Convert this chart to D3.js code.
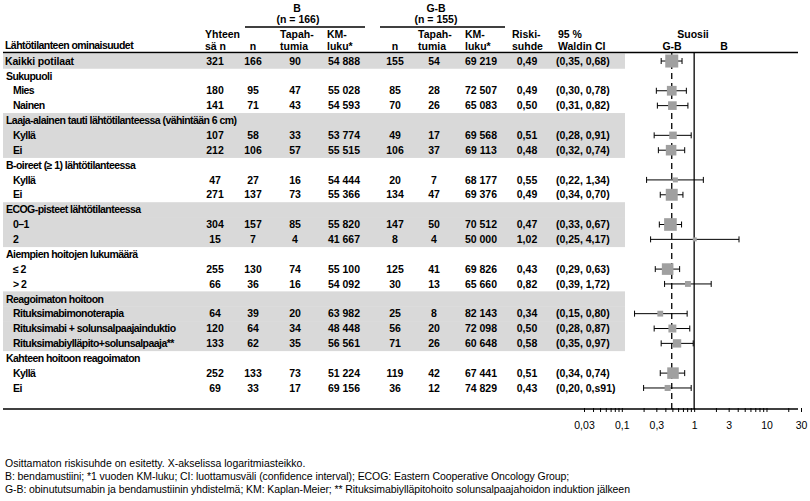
<!DOCTYPE html>
<html><head><meta charset="utf-8">
<script src="https://cdn.jsdelivr.net/npm/d3@7"></script>
<style>body{margin:0;background:#fff}svg{display:block}</style>
</head><body><svg id="c" width="810" height="501"></svg>
<script>
// ---- data ----
const labels = ["Kaikki potilaat","Sukupuoli","Mies","Nainen",
 "Laaja-alainen tauti lähtötilanteessa (vähintään 6 cm)","Kyllä","Ei",
 "B-oireet (≥ 1) lähtötilanteessa","Kyllä","Ei",
 "ECOG-pisteet lähtötilanteessa","0–1","2",
 "Aiempien hoitojen lukumäärä","≤ 2","> 2",
 "Reagoimaton hoitoon","Rituksimabimonoterapia","Rituksimabi + solunsalpaajainduktio","Rituksimabiylläpito+solunsalpaaja**",
 "Kahteen hoitoon reagoimaton","Kyllä","Ei"];
const rowKind = ["all","head","sub","sub","head","sub","sub","head","sub","sub","head","sub","sub","head","sub","sub","head","sub","sub","sub","head","sub","sub"];
const shaded = [1,0,0,0,1,1,1,0,0,0,1,1,1,0,0,0,1,1,1,1,0,0,0];
const totalN = [321,null,180,141,null,107,212,null,47,271,null,304,15,null,255,66,null,64,120,133,null,252,69];
const bN     = [166,null,95,71,null,58,106,null,27,137,null,157,7,null,130,36,null,39,64,62,null,133,33];
const bEvents= [90,null,47,43,null,33,57,null,16,73,null,85,4,null,74,16,null,20,34,35,null,73,17];
const bKM    = [54888,null,55028,54593,null,53774,55515,null,54444,55366,null,55820,41667,null,55100,54092,null,63982,48448,56561,null,51224,69156];
const gN     = [155,null,85,70,null,49,106,null,20,134,null,147,8,null,125,30,null,25,56,71,null,119,36];
const gEvents= [54,null,28,26,null,17,37,null,7,47,null,50,4,null,41,13,null,8,20,26,null,42,12];
const gKM    = [69219,null,72507,65083,null,69568,69113,null,68177,69376,null,70512,50000,null,69826,65660,null,82143,72098,60648,null,67441,74829];
const hr     = [0.49,null,0.49,0.50,null,0.51,0.48,null,0.55,0.49,null,0.47,1.02,null,0.43,0.82,null,0.34,0.50,0.58,null,0.51,0.43];
const ciLow  = [0.35,null,0.30,0.31,null,0.28,0.32,null,0.22,0.34,null,0.33,0.25,null,0.29,0.39,null,0.15,0.28,0.35,null,0.34,0.20];
const ciHigh = [0.68,null,0.78,0.82,null,0.91,0.74,null,1.34,0.70,null,0.67,4.17,null,0.63,1.72,null,0.80,0.87,0.97,null,0.74,0.91];
const ciText = ["(0,35, 0,68)",null,"(0,30, 0,78)","(0,31, 0,82)",null,"(0,28, 0,91)","(0,32, 0,74)",null,"(0,22, 1,34)","(0,34, 0,70)",null,"(0,33, 0,67)","(0,25, 4,17)",null,"(0,29, 0,63)","(0,39, 1,72)",null,"(0,15, 0,80)","(0,28, 0,87)","(0,35, 0,97)",null,"(0,34, 0,74)","(0,20, 0,s91)"];
const majorTicks = [0.03,0.1,0.3,1,3,10,30];
const minorTicks = [0.04,0.05,0.06,0.07,0.08,0.09,0.2,0.4,0.5,0.6,0.7,0.8,0.9,2,4,5,6,7,8,9,20];
const tickLabels = ["0,03","0,1","0,3","1","3","10","30"];
const footnotes = [
 "Osittamaton riskisuhde on esitetty. X-akselissa logaritmiasteikko.",
 "B: bendamustiini; *1 vuoden KM-luku; CI: luottamusväli (confidence interval); ECOG: Eastern Cooperative Oncology Group;",
 "G-B: obinututsumabin ja bendamustiinin yhdistelmä; KM: Kaplan-Meier; ** Rituksimabiylläpitohoito solunsalpaajahoidon induktion jälkeen"];

// ---- drawing ----
const svg = d3.select("#c");
const FONT = "'Liberation Sans', Arial, sans-serif";
const FS = 10.5;
const idx = d3.range(labels.length);
const y = d3.scaleBand().domain(idx).range([53.6, 395.4]).paddingInner(0);
const yc = i => y(i) + y.bandwidth()/2;
const x = d3.scaleLog().domain([0.03, 30]).range([584, 801]);
const size = d3.scaleSqrt().domain([0, 321]).range([0, 13]);
const fmtKM = v => d3.format(",")(v).replace(/,/g, " ");
const fmtN = v => v == null ? "" : String(v);
const fmtHR = v => v.toFixed(2).replace(".", ",");

// shaded bands
svg.append("g").selectAll("rect").data(idx.filter(i => shaded[i])).join("rect")
  .attr("x", 3).attr("width", 622).attr("y", i => y(i)).attr("height", y.bandwidth() + 0.3)
  .attr("fill", "#d9d9d9");

const txt = (g, xx, yy, s, anchor, weight) => g.append("text").attr("x", xx).attr("y", yy)
  .attr("text-anchor", anchor || "start").attr("font-family", FONT).attr("font-size", FS)
  .attr("font-weight", weight || "bold").attr("fill", "#000").text(s);

// headers
const H = svg.append("g");
txt(H, 297, 12, "B", "middle");
txt(H, 298, 23, "(n = 166)", "middle");
txt(H, 436, 12, "G-B", "middle");
txt(H, 436, 23, "(n = 155)", "middle");
H.append("line").attr("x1", 245).attr("x2", 365).attr("y1", 27).attr("y2", 27).attr("stroke", "#000").attr("stroke-width", 1.5);
H.append("line").attr("x1", 380).attr("x2", 505).attr("y1", 27).attr("y2", 27).attr("stroke", "#000").attr("stroke-width", 1.5);
txt(H, 5, 49, "Lähtötilanteen ominaisuudet").attr("letter-spacing", -0.55);
txt(H, 205, 38, "Yhteen"); txt(H, 205, 50, "sä n");
txt(H, 253, 50, "n", "middle");
txt(H, 280, 38, "Tapah-"); txt(H, 280, 50, "tumia");
txt(H, 327, 38, "KM-"); txt(H, 327, 50, "luku*");
txt(H, 395, 50, "n", "middle");
txt(H, 418, 38, "Tapah-"); txt(H, 418, 50, "tumia");
txt(H, 465, 38, "KM-"); txt(H, 465, 50, "luku*");
txt(H, 512, 38, "Riski-"); txt(H, 512, 50, "suhde");
txt(H, 558, 38, "95 %"); txt(H, 558, 50, "Waldin CI");
txt(H, 693, 38, "Suosii", "middle");
txt(H, 672, 50, "G-B", "middle");
txt(H, 724, 50, "B", "middle");

// rows
const R = svg.append("g");
idx.forEach(i => {
  const yy = yc(i) + 3.7;
  const lx = rowKind[i] === "sub" ? 13 : (rowKind[i] === "head" ? 6 : 5);
  txt(R, lx, yy, labels[i]).attr("letter-spacing", rowKind[i] === "all" ? -0.15 : -0.55);
  if (hr[i] == null) return;
  txt(R, 215, yy, fmtN(totalN[i]), "middle");
  txt(R, 253, yy, fmtN(bN[i]), "middle");
  txt(R, 295, yy, fmtN(bEvents[i]), "middle");
  txt(R, 344, yy, fmtKM(bKM[i]), "middle");
  txt(R, 395, yy, fmtN(gN[i]), "middle");
  txt(R, 434, yy, fmtN(gEvents[i]), "middle");
  txt(R, 481, yy, fmtKM(gKM[i]), "middle");
  txt(R, 527, yy, fmtHR(hr[i]), "middle");
  txt(R, 556, yy, ciText[i]);
});

// rules
svg.append("line").attr("x1", 3).attr("x2", 798).attr("y1", 52.5).attr("y2", 52.5).attr("stroke", "#000").attr("stroke-width", 1.6);
// reference lines
svg.append("line").attr("x1", x(hr[0])).attr("x2", x(hr[0])).attr("y1", 53).attr("y2", 409)
  .attr("stroke", "#000").attr("stroke-width", 1.3).attr("stroke-dasharray", "6,4");
svg.append("line").attr("x1", x(1)).attr("x2", x(1)).attr("y1", 53).attr("y2", 409)
  .attr("stroke", "#000").attr("stroke-width", 1.3);

// forest marks
const F = svg.append("g");
const pts = idx.filter(i => hr[i] != null);
F.selectAll("line.ci").data(pts).join("line").attr("class", "ci")
  .attr("x1", i => x(ciLow[i])).attr("x2", i => x(ciHigh[i]))
  .attr("y1", i => yc(i)).attr("y2", i => yc(i)).attr("stroke", "#000").attr("stroke-width", 1);
F.selectAll("line.cl").data(pts).join("line").attr("class", "cl")
  .attr("x1", i => x(ciLow[i])).attr("x2", i => x(ciLow[i]))
  .attr("y1", i => yc(i) - 3).attr("y2", i => yc(i) + 3).attr("stroke", "#000");
F.selectAll("line.ch").data(pts).join("line").attr("class", "ch")
  .attr("x1", i => x(ciHigh[i])).attr("x2", i => x(ciHigh[i]))
  .attr("y1", i => yc(i) - 3).attr("y2", i => yc(i) + 3).attr("stroke", "#000");
F.selectAll("rect").data(pts).join("rect")
  .attr("x", i => x(hr[i]) - Math.max(4, size(totalN[i])) / 2)
  .attr("y", i => yc(i) - Math.max(4, size(totalN[i])) / 2)
  .attr("width", i => Math.max(4, size(totalN[i])))
  .attr("height", i => Math.max(4, size(totalN[i])))
  .attr("fill", "#a0a0a0");

// bottom rule + axis
svg.append("line").attr("x1", 3).attr("x2", 798).attr("y1", 409).attr("y2", 409).attr("stroke", "#000").attr("stroke-width", 1.6);
const allTicks = majorTicks.concat(minorTicks);
const ax = svg.append("g").attr("transform", "translate(0,408)")
  .call(d3.axisBottom(x).tickValues(allTicks).tickSize(4)
    .tickFormat(d => { const k = majorTicks.indexOf(d); return k >= 0 ? tickLabels[k] : ""; }));
ax.select(".domain").remove();
ax.selectAll("line").attr("stroke", "#000");
ax.selectAll("text").attr("font-family", FONT).attr("font-size", FS).attr("font-weight", "normal").attr("fill", "#000").attr("dy", "1.3em");

// footnotes
footnotes.forEach((s, k) => txt(svg, 5, 467 + 13 * k, s, "start", "normal").attr("letter-spacing", k === 0 ? 0 : -0.08));
</script></body></html>
